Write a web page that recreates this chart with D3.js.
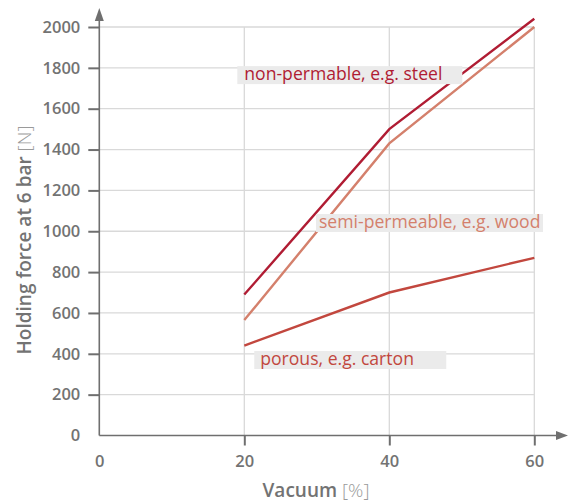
<!DOCTYPE html>
<html>
<head>
<meta charset="utf-8">
<script src="https://cdn.jsdelivr.net/npm/d3@7"></script>
<style>
  body { margin: 0; background: #fff; }
  svg text { font-family: "Open Sans", sans-serif; }
</style>
</head>
<body>
<svg id="chart" width="568" height="502"></svg>
<script>
const vacuum = [20, 40, 60];
const steel = [690, 1500, 2040];
const wood = [565, 1430, 2000];
const carton = [440, 700, 870];
const yTicks = [0, 200, 400, 600, 800, 1000, 1200, 1400, 1600, 1800, 2000];
const xTicks = [0, 20, 40, 60];

const series = [
  { name: "non-permable, e.g. steel", values: steel, color: "#b01c33", label: { x: 20.0, y: 1740, pad: 7, w: 225 } },
  { name: "semi-permeable, e.g. wood", values: wood, color: "#d4806c", label: { x: 30.3, y: 1016, pad: 3, w: 227 } },
  { name: "porous, e.g. carton", values: carton, color: "#c2473e", label: { x: 22.2, y: 345, pad: 6, w: 192 } }
];

const svg = d3.select("#chart");
const axisColor = "#6f6f6f";
const textColor = "#737373";

const x = d3.scaleLinear().domain([0, 60]).range([99.3, 534.3]);
const y = d3.scaleLinear().domain([0, 2000]).range([435.5, 27]);

// grid
const grid = svg.append("g");
grid.selectAll(".hgrid")
  .data(yTicks.filter(d => d > 0))
  .enter().append("line")
  .attr("x1", x(0)).attr("x2", x(60))
  .attr("y1", d => y(d)).attr("y2", d => y(d))
  .attr("stroke", "#d9d9d9").attr("stroke-width", 1.3);
grid.selectAll(".vgrid")
  .data(xTicks.filter(d => d > 0))
  .enter().append("line")
  .attr("x1", d => x(d)).attr("x2", d => x(d))
  .attr("y1", y(0)).attr("y2", y(2000))
  .attr("stroke", "#d9d9d9").attr("stroke-width", 1.3);

// axes
const yAxis = svg.append("g")
  .attr("transform", `translate(${x(0)},0)`)
  .call(d3.axisLeft(y).tickValues(yTicks).tickFormat(d3.format("d")).tickSize(11).tickPadding(8));
const xAxis = svg.append("g")
  .attr("transform", `translate(0,${y(0)})`)
  .call(d3.axisBottom(x).tickValues(xTicks).tickFormat(d3.format("d")).tickSize(10).tickPadding(10));

[yAxis, xAxis].forEach(a => {
  a.select(".domain").remove();
  a.selectAll(".tick line").attr("stroke", axisColor).attr("stroke-width", 2);
  a.selectAll(".tick text")
    .attr("fill", textColor)
    .style("font-size", "16.5px")
    .style("font-weight", 600);
});
xAxis.selectAll(".tick").filter(d => d === 0).select("line").remove();
yAxis.selectAll(".tick").filter(d => d === 0).select("line").remove();

svg.append("line")
  .attr("x1", x(0)).attr("x2", 556)
  .attr("y1", y(0)).attr("y2", y(0))
  .attr("stroke", axisColor).attr("stroke-width", 1.6);
svg.append("path")
  .attr("d", `M556,${y(0) - 4.5}L568,${y(0)}L556,${y(0) + 4.5}Z`)
  .attr("fill", axisColor);
svg.append("line")
  .attr("x1", x(0)).attr("x2", x(0))
  .attr("y1", y(0)).attr("y2", 20)
  .attr("stroke", axisColor).attr("stroke-width", 1.6);
svg.append("path")
  .attr("d", `M${x(0) - 4.5},21L${x(0)},8L${x(0) + 4.5},21Z`)
  .attr("fill", axisColor);

// lines
const line = d3.line()
  .x((d, i) => x(vacuum[i]))
  .y(d => y(d));

svg.selectAll(".series")
  .data(series)
  .enter().append("path")
  .attr("d", d => line(d.values))
  .attr("fill", "none")
  .attr("stroke", d => d.color)
  .attr("stroke-width", 2.4);

// labels
const labels = svg.selectAll(".lbl")
  .data(series)
  .enter().append("g")
  .attr("transform", d => `translate(${x(d.label.x)},${y(d.label.y)})`);
labels.append("rect")
  .attr("x", d => -d.label.pad).attr("y", -14)
  .attr("width", d => d.label.w).attr("height", 18)
  .attr("fill", "#ebebeb");
labels.append("text")
  .attr("y", 0)
  .attr("fill", d => d.color)
  .style("font-size", "17.6px")
  .text(d => d.name);

// axis titles
const xt = svg.append("text")
  .attr("x", 316).attr("y", 497)
  .attr("text-anchor", "middle")
  .style("font-size", "19px");
xt.append("tspan").attr("fill", textColor).style("font-weight", 600).text("Vacuum ");
xt.append("tspan").attr("fill", "#9a9a9a").style("font-weight", 300).text("[%]");

const yt = svg.append("text")
  .attr("transform", "translate(31,240) rotate(-90)")
  .attr("text-anchor", "middle")
  .style("font-size", "19px");
yt.append("tspan").attr("fill", textColor).style("font-weight", 600).text("Holding force at 6 bar ");
yt.append("tspan").attr("fill", "#9a9a9a").style("font-weight", 300).text("[N]");
</script>
</body>
</html>
